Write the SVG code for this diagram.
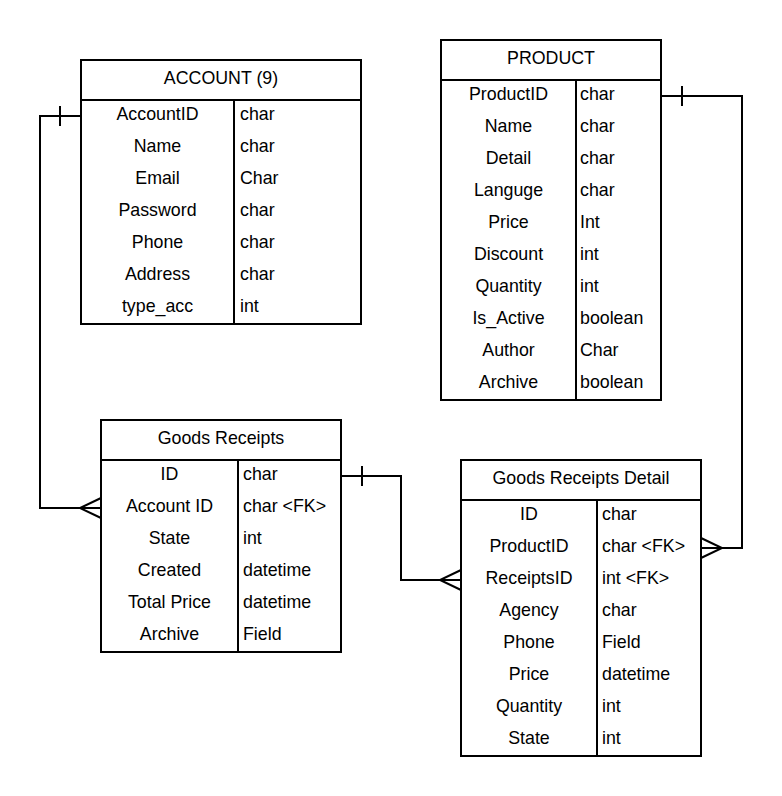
<svg xmlns="http://www.w3.org/2000/svg" width="782" height="796" viewBox="0 0 782 796">
<style>
.box{fill:#fff;stroke:#000;stroke-width:2}
.ln{fill:none;stroke:#000;stroke-width:2}
text{font-family:"Liberation Sans",Arial,sans-serif;font-size:17.8px;fill:#000}
.c{text-anchor:middle}
</style>
<rect width="782" height="796" fill="#fff"/>
<g id="connectors">
<path class="ln" d="M81,116 H40 V508 H101"/>
<path class="ln" d="M60,106 V126"/>
<path class="ln" d="M101,498 L80,508 L101,518"/>
<path class="ln" d="M341,476 H401 V580 H461"/>
<path class="ln" d="M362,466 V486"/>
<path class="ln" d="M461,570 L440,580 L461,590"/>
<path class="ln" d="M661,96 H742 V548 H701"/>
<path class="ln" d="M682,86 V106"/>
<path class="ln" d="M701,538 L722,548 L701,558"/>
</g>
<g id="account">
<rect class="box" x="81" y="60" width="280" height="264"/>
<path class="ln" d="M81,100 H361 M234,100 V324"/>
<text class="c" x="221" y="84">ACCOUNT (9)</text>
<text class="c" x="157.5" y="120">AccountID</text><text x="240" y="120">char</text>
<text class="c" x="157.5" y="152">Name</text><text x="240" y="152">char</text>
<text class="c" x="157.5" y="184">Email</text><text x="240" y="184">Char</text>
<text class="c" x="157.5" y="216">Password</text><text x="240" y="216">char</text>
<text class="c" x="157.5" y="248">Phone</text><text x="240" y="248">char</text>
<text class="c" x="157.5" y="280">Address</text><text x="240" y="280">char</text>
<text class="c" x="157.5" y="312">type_acc</text><text x="240" y="312">int</text>
</g>
<g id="product">
<rect class="box" x="441" y="40" width="220" height="360"/>
<path class="ln" d="M441,80 H661 M576,80 V400"/>
<text class="c" x="551" y="64">PRODUCT</text>
<text class="c" x="508.5" y="100">ProductID</text><text x="580" y="100">char</text>
<text class="c" x="508.5" y="132">Name</text><text x="580" y="132">char</text>
<text class="c" x="508.5" y="164">Detail</text><text x="580" y="164">char</text>
<text class="c" x="508.5" y="196">Languge</text><text x="580" y="196">char</text>
<text class="c" x="508.5" y="228">Price</text><text x="580" y="228">Int</text>
<text class="c" x="508.5" y="260">Discount</text><text x="580" y="260">int</text>
<text class="c" x="508.5" y="292">Quantity</text><text x="580" y="292">int</text>
<text class="c" x="508.5" y="324">Is_Active</text><text x="580" y="324">boolean</text>
<text class="c" x="508.5" y="356">Author</text><text x="580" y="356">Char</text>
<text class="c" x="508.5" y="388">Archive</text><text x="580" y="388">boolean</text>
</g>
<g id="goods-receipts">
<rect class="box" x="101" y="420" width="240" height="232"/>
<path class="ln" d="M101,460 H341 M238,460 V652"/>
<text class="c" x="221" y="444">Goods Receipts</text>
<text class="c" x="169.5" y="480">ID</text><text x="243" y="480">char</text>
<text class="c" x="169.5" y="512">Account ID</text><text x="243" y="512">char &lt;FK&gt;</text>
<text class="c" x="169.5" y="544">State</text><text x="243" y="544">int</text>
<text class="c" x="169.5" y="576">Created</text><text x="243" y="576">datetime</text>
<text class="c" x="169.5" y="608">Total Price</text><text x="243" y="608">datetime</text>
<text class="c" x="169.5" y="640">Archive</text><text x="243" y="640">Field</text>
</g>
<g id="goods-receipts-detail">
<rect class="box" x="461" y="460" width="240" height="296"/>
<path class="ln" d="M461,500 H701 M597,500 V756"/>
<text class="c" x="581" y="484">Goods Receipts Detail</text>
<text class="c" x="529" y="520">ID</text><text x="602" y="520">char</text>
<text class="c" x="529" y="552">ProductID</text><text x="602" y="552">char &lt;FK&gt;</text>
<text class="c" x="529" y="584">ReceiptsID</text><text x="602" y="584">int &lt;FK&gt;</text>
<text class="c" x="529" y="616">Agency</text><text x="602" y="616">char</text>
<text class="c" x="529" y="648">Phone</text><text x="602" y="648">Field</text>
<text class="c" x="529" y="680">Price</text><text x="602" y="680">datetime</text>
<text class="c" x="529" y="712">Quantity</text><text x="602" y="712">int</text>
<text class="c" x="529" y="744">State</text><text x="602" y="744">int</text>
</g>
</svg>
